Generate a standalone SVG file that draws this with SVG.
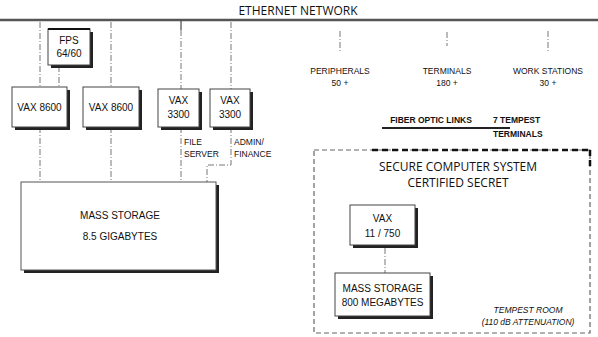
<svg xmlns="http://www.w3.org/2000/svg" width="598" height="337" viewBox="0 0 598 337">
<style>
.t{font-family:"Liberation Sans",Arial,sans-serif;fill:#111;text-anchor:middle}
.s{font-size:10px}
.xs{font-size:8.5px}
.h{font-family:"Open Sans","Liberation Sans",sans-serif;font-size:12px;fill:#111;text-anchor:middle}
.box{fill:#fff;stroke:#444;stroke-width:1}
.sh{fill:#222}
.c{stroke:#777;stroke-width:1;fill:none;stroke-dasharray:6 2 1 2}
</style>
<rect width="598" height="337" fill="#fff"/>
<g id="ethernet">
<line x1="0" y1="20" x2="598" y2="20" stroke="#555" stroke-width="2.5"/>
<text class="h" x="298" y="15">ETHERNET NETWORK</text>
</g>
<g id="connectors">
<line class="c" x1="40" y1="22" x2="40" y2="87"/>
<line class="c" x1="40" y1="127" x2="40" y2="182"/>
<line class="c" x1="59" y1="66" x2="59" y2="87"/>
<line class="c" x1="111" y1="22" x2="111" y2="87"/>
<line class="c" x1="111" y1="127" x2="111" y2="182"/>
<line x1="181" y1="21" x2="181" y2="30" stroke="#222" stroke-width="1"/>
<line class="c" x1="181" y1="30" x2="181" y2="89"/>
<line class="c" x1="181" y1="127" x2="181" y2="182"/>
<line class="c" x1="231" y1="22" x2="231" y2="89"/>
<polyline class="c" points="231,127 231,165 207,165 207,182"/>
<line class="c" x1="340" y1="31" x2="340" y2="51"/>
<line class="c" x1="447" y1="32" x2="447" y2="46"/>
<line class="c" x1="548" y1="31" x2="548" y2="51"/>
<line class="c" x1="385" y1="248" x2="385" y2="273"/>
<line x1="382" y1="128" x2="510" y2="128" stroke="#222" stroke-width="2"/>
</g>
<g id="fps">
<rect class="sh" x="51" y="32" width="42" height="36"/>
<rect class="box" x="48" y="29" width="42" height="36"/>
<line x1="48" y1="29" x2="90" y2="29" stroke="#111" stroke-width="2"/>
<text class="t s" x="69" y="44">FPS</text>
<text class="t s" x="69" y="57">64/60</text>
</g>
<g id="vax8600a">
<rect class="sh" x="15" y="90" width="55" height="40"/>
<rect class="box" x="12" y="87" width="55" height="40"/>
<text class="t s" x="39.5" y="111">VAX 8600</text>
</g>
<g id="vax8600b">
<rect class="sh" x="86" y="90" width="56" height="40"/>
<rect class="box" x="83" y="87" width="56" height="40"/>
<text class="t s" x="111" y="111">VAX 8600</text>
</g>
<g id="vax3300a">
<rect class="sh" x="161" y="92" width="41" height="38"/>
<rect class="box" x="158" y="89" width="41" height="38"/>
<text class="t s" x="178.5" y="104">VAX</text>
<text class="t s" x="178.5" y="118">3300</text>
<text class="t xs" x="184" y="145" style="text-anchor:start">FILE</text>
<text class="t xs" x="184" y="157" style="text-anchor:start">SERVER</text>
</g>
<g id="vax3300b">
<rect class="sh" x="213" y="92" width="40" height="38"/>
<rect class="box" x="210" y="89" width="40" height="38"/>
<text class="t s" x="230" y="104">VAX</text>
<text class="t s" x="230" y="118">3300</text>
<text class="t xs" x="234" y="145" style="text-anchor:start">ADMIN/</text>
<text class="t xs" x="234" y="157" style="text-anchor:start">FINANCE</text>
</g>
<g id="massstorage">
<rect class="sh" x="24" y="185" width="195" height="88"/>
<rect x="21" y="182" width="195" height="88" fill="#fff" stroke="#555" stroke-width="1"/>
<text class="t s" x="120" y="219">MASS STORAGE</text>
<text class="t s" x="120" y="240">8.5 GIGABYTES</text>
</g>
<g id="peripherals">
<text class="t xs" x="340" y="74">PERIPHERALS</text>
<text class="t xs" x="340" y="86">50 +</text>
</g>
<g id="terminals">
<text class="t xs" x="447" y="74">TERMINALS</text>
<text class="t xs" x="447" y="86">180 +</text>
</g>
<g id="workstations">
<text class="t xs" x="548" y="74">WORK STATIONS</text>
<text class="t xs" x="548" y="86">30 +</text>
</g>
<g id="fiber">
<text class="t" x="431" y="123" font-size="8.5" font-weight="bold">FIBER OPTIC LINKS</text>
</g>
<g id="tempestterminals">
<text class="t" x="493" y="123" font-size="8.5" font-weight="bold" style="text-anchor:start">7 TEMPEST</text>
<text class="t" x="493" y="137" font-size="8.5" font-weight="bold" style="text-anchor:start">TERMINALS</text>
</g>
<g id="secure">
<rect x="314" y="150" width="276" height="183" fill="none" stroke="#666" stroke-width="1.2" stroke-dasharray="5 3"/>
<line x1="372" y1="150" x2="590" y2="150" stroke="#111" stroke-width="2.5" stroke-dasharray="6 4"/>
<line x1="590" y1="150" x2="590" y2="170" stroke="#111" stroke-width="2.5" stroke-dasharray="6 4"/>
<text class="h" x="458" y="171">SECURE COMPUTER SYSTEM</text>
<text class="h" x="458" y="187">CERTIFIED SECRET</text>
<text class="t xs" x="528" y="313" font-style="italic">TEMPEST ROOM</text>
<text class="t xs" x="528" y="325" font-style="italic">(110 dB ATTENUATION)</text>
</g>
<g id="vax11750">
<rect class="sh" x="353" y="208" width="65" height="40"/>
<rect class="box" x="350" y="205" width="65" height="40"/>
<text class="t s" x="382.5" y="222">VAX</text>
<text class="t s" x="382.5" y="237">11 / 750</text>
</g>
<g id="massstorage800">
<rect class="sh" x="338" y="276" width="95" height="43"/>
<rect class="box" x="335" y="273" width="95" height="43"/>
<text class="t s" x="382.5" y="292">MASS STORAGE</text>
<text class="t s" x="382.5" y="306">800 MEGABYTES</text>
</g>
</svg>
